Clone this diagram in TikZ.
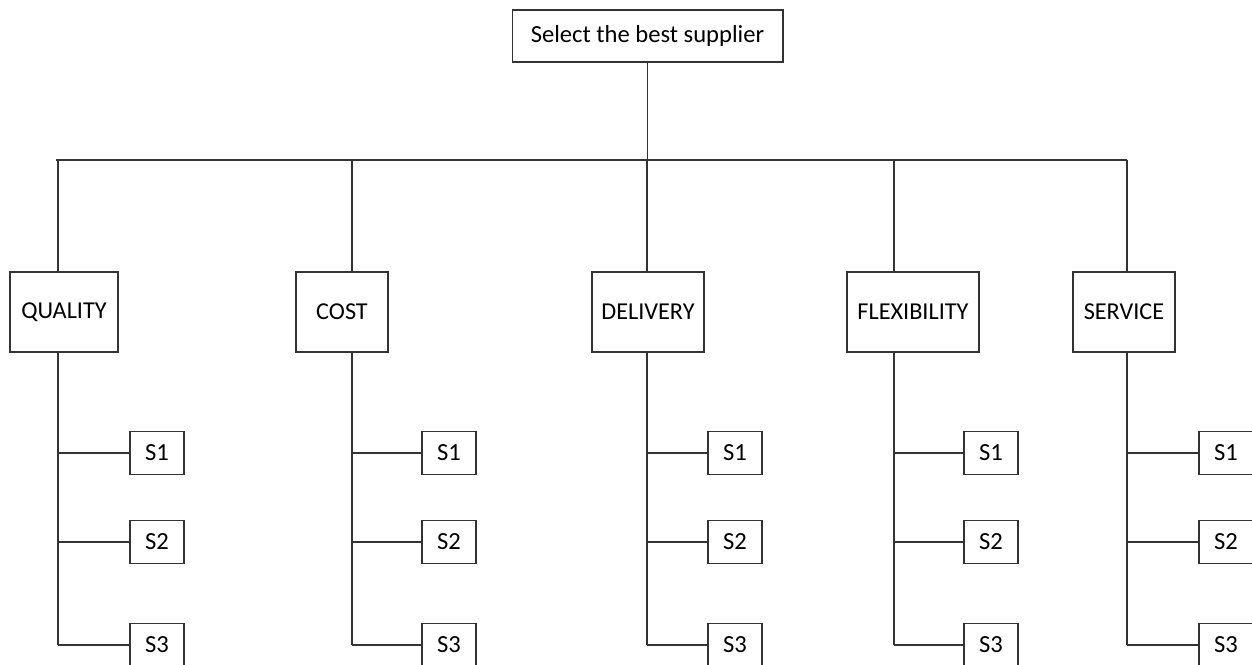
\documentclass[tikz,border=0pt]{standalone}
\usepackage{fontspec}
\setmainfont{Carlito}
\usetikzlibrary{positioning}

\tikzset{
  link/.style={draw=black!80,line width=0.6pt},
  goalbox/.style={draw=black!80,line width=0.6pt,text=black,inner sep=0pt,
    minimum width=5.42cm,minimum height=1.04cm,font=\fontsize{14}{16}\selectfont},
  critbox/.style={draw=black!80,line width=0.6pt,text=black,inner sep=0pt,
    minimum height=1.6cm,font=\fontsize{13.8}{16}\selectfont},
  supbox/.style={draw=black!80,line width=0.6pt,text=black,inner sep=0pt,
    minimum width=1.08cm,minimum height=0.86cm,font=\fontsize{14}{16}\selectfont}
}

\begin{document}
\begin{tikzpicture}[x=0.02cm,y=-0.02cm]
      % page in pixel units, y downwards
      \useasboundingbox (0,0) rectangle (1252,664);
      \clip (0,0) rectangle (1252,664);
      %% the goal
      \node[goalbox] (goal) at (647.5,36) {Select the best supplier};
      \coordinate (busL) at (56,160);
      \coordinate (busR) at (1127,160);
      \draw[link] (busL) -- (busR);
      \draw[link] (goal.south) -- (goal.south |- busL);
      %% criteria and the suppliers under each
      \foreach \crit/\txt/\cx/\w/\sx/\bx in {Q/QUALITY/64/2.16/58/157,
        C/COST/342/1.84/352/449, D/DELIVERY/648/2.24/647/735,
        F/FLEXIBILITY/913/2.64/894/991, V/SERVICE/1124/2.04/1127/1226}
      {
        \node[critbox,minimum width=\w cm] (\crit) at (\cx,312) {\txt};
        \coordinate (top\crit) at (\sx,160);
        \coordinate (spine\crit) at (\sx,352);
        \draw[link] (top\crit) -- (top\crit |- \crit.north);
        \foreach \k/\sy in {1/452,2/541,3/644}
        {
          \node[supbox] (\crit\k) at (\bx,\sy+1) {S\k};
          \draw[link] (spine\crit |- \crit\k.west) -- (\crit\k.west);
        }
        \draw[link] (spine\crit) -- (spine\crit |- \crit3.west);
      }
    \end{tikzpicture}
\end{document}
